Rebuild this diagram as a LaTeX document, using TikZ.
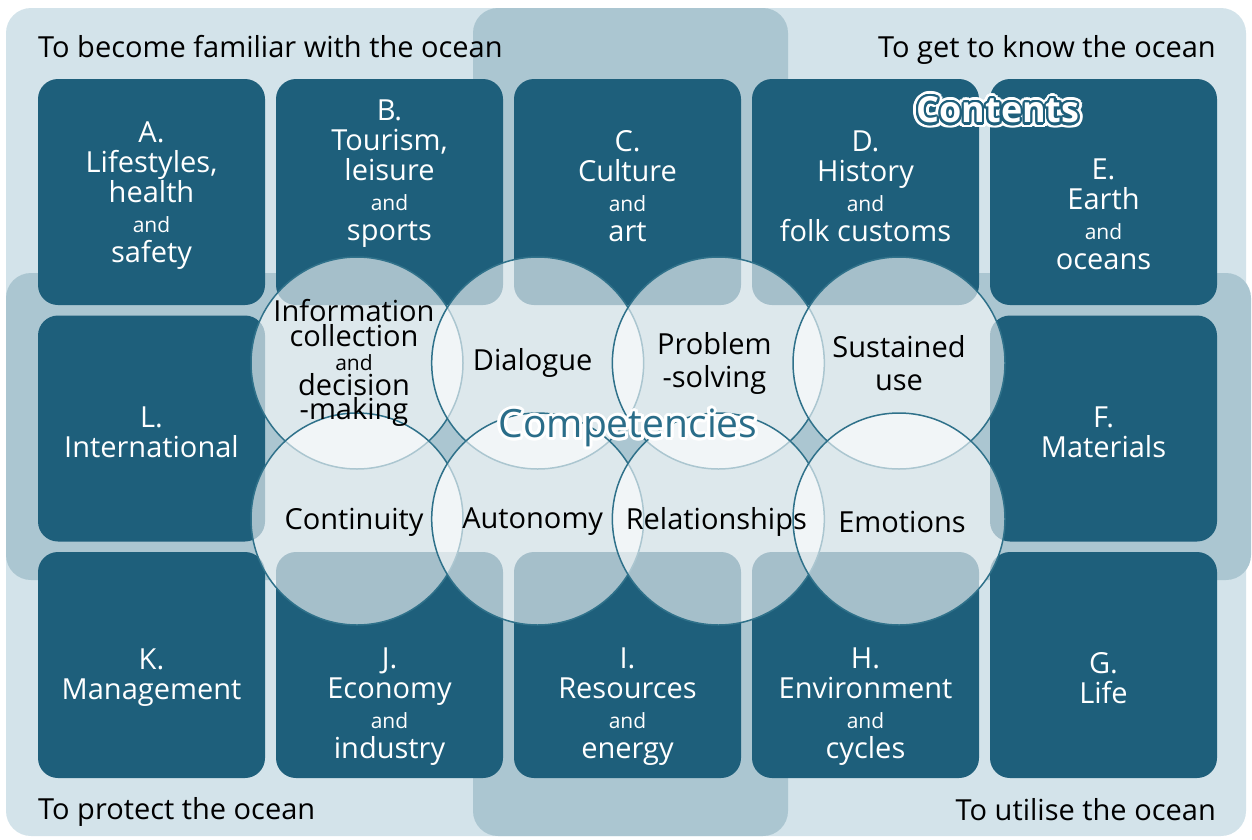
\documentclass[tikz,border=0pt]{standalone}
\usepackage{fontspec}
\setmainfont{Open Sans}
\usepackage{xcolor}
\usepackage{tikz}
\usetikzlibrary{calc}
\usetikzlibrary{positioning}

\definecolor{bgblue}{HTML}{D3E3EA}
\definecolor{bandblue}{HTML}{ABC6D1}
\definecolor{boxblue}{HTML}{1E5F7B}
\definecolor{ringblue}{HTML}{2F718A}
\definecolor{compblue}{HTML}{2A6D89}

\newcommand{\sm}[1]{{\fontsize{21}{21}\selectfont #1}}

\begin{document}
\begin{tikzpicture}[
        x=1pt, y=-1pt,
        topicbox/.style={fill=boxblue, rounded corners=20pt, minimum width=227pt, minimum height=226pt, inner sep=0pt},
        topictext/.style={text=white, align=center, inner sep=0pt, font=\fontsize{29}{30}\selectfont},
        compcircle/.style={circle, minimum size=212pt, inner sep=0pt, fill=white, fill opacity=0.6, draw=ringblue, line width=1.5pt},
        comptext/.style={text=black, align=center, inner sep=0pt, font=\fontsize{29}{33}\selectfont},
        aimtext/.style={text=black, inner sep=0pt, font=\fontsize{29}{30}\selectfont}
    ]
    \useasboundingbox (0,0) rectangle (1252,839);

    %=== Grid parameters ===%
    \def\xzero{151.5}
    \def\colstep{238}
    \def\yzero{192}
    \def\rowstep{236.5}
    \def\czero{357}
    \def\cstep{180.67}
    \def\crow{363}
    \def\cgap{156}

    % Background and bands
    \fill[bgblue, rounded corners=25pt] (6,8) rectangle (1246,836);
    \fill[bandblue, rounded corners=25pt] (473,8) rectangle (788,836);
    \fill[bandblue, rounded corners=25pt] (6,273) rectangle (1251,580);

    %=== Topic Macro ===%
    \newcommand{\topic}[5]{
        \pgfmathsetmacro{\bx}{\xzero+#2*\colstep}
        \pgfmathsetmacro{\by}{\yzero+#3*\rowstep}
        \node[topicbox] (#1) at (\bx,\by) {};
        \node[topictext] (#1-text) at (\bx,\by+#4) {#5};
    }

    %=== CONTENTS ===%
    \topic{A}{0}{0}{4}{A.\\Lifestyles,\\health\\\sm{and}\\safety}
    \topic{B}{1}{0}{-18}{B.\\Tourism,\\leisure\\\sm{and}\\sports}
    \topic{C}{2}{0}{-6}{C.\\Culture\\\sm{and}\\art}
    \topic{D}{3}{0}{-6}{D.\\History\\\sm{and}\\folk customs}
    \topic{E}{4}{0}{22}{E.\\Earth\\\sm{and}\\oceans}
    \topic{L}{0}{1}{4}{L.\\International}
    \topic{F}{4}{1}{4}{F.\\Materials}
    \topic{K}{0}{2}{13}{K.\\Management}
    \topic{J}{1}{2}{42}{J.\\Economy\\\sm{and}\\industry}
    \topic{I}{2}{2}{42}{I.\\Resources\\\sm{and}\\energy}
    \topic{H}{3}{2}{42}{H.\\Environment\\\sm{and}\\cycles}
    \topic{G}{4}{2}{13}{G.\\Life}

    %=== COMPETENCIES ===%
    \foreach \name/\col/\row in {info/0/0, dialogue/1/0, problem/2/0, sustained/3/0,
            continuity/0/1, autonomy/1/1, relation/2/1, emotions/3/1}
        \node[compcircle] (\name) at ({\czero+\col*\cstep},{\crow+\row*\cgap}) {};

    \node[comptext, font=\fontsize{29}{24.5}\selectfont] (info-text) at ([xshift=-3pt]info.center)
        {Information\\collection\\\sm{and}\\decision\\-making};
    \node[comptext] (dialogue-text) at ([xshift=-5pt]dialogue.center) {Dialogue};
    \node[comptext] (problem-text) at ([xshift=-4pt]problem.center) {Problem\\-solving};
    \node[comptext] (sustained-text) at (sustained.center) {Sustained\\use};
    \node[comptext] (continuity-text) at ([xshift=-3pt,yshift=-3pt]continuity.center) {Continuity};
    \node[comptext] (autonomy-text) at ([xshift=-5pt,yshift=-3pt]autonomy.center) {Autonomy};
    \node[comptext] (relation-text) at ([xshift=-2pt,yshift=-3pt]relation.center) {Relationships};
    \node[comptext] (emotions-text) at ([xshift=3pt,yshift=-3pt]emotions.center) {Emotions};

    %=== Aims in the corners ===%
    \node[aimtext, anchor=base west] (familiar) at (38,57) {To become familiar with the ocean};
    \node[aimtext, anchor=base east] (know) at (1216,57) {To get to know the ocean};
    \node[aimtext, anchor=base west] (protect) at (38,819) {To protect the ocean};
    \node[aimtext, anchor=base east] (utilise) at (1216,820) {To utilise the ocean};

    %=== Halo Macro ===%
    \newcommand{\halotext}[6]{
        \foreach \a in {0,20,...,340}
            \node[font=#3, text=#4, inner sep=0pt] (#1-\a) at ($(#2)+(\a:#5)$) {#6};
    }

    % Titles
    \coordinate (comp-pos) at (628,428);
    \halotext{comp-halo}{comp-pos}{\fontsize{39}{40}\selectfont}{white}{3}{Competencies}
    \node[font=\fontsize{39}{40}\selectfont, text=compblue, inner sep=0pt] (competencies) at (comp-pos) {Competencies};

    \coordinate (cont-pos) at (998,110);
    \halotext{cont-halo}{cont-pos}{\bfseries\fontsize{36}{38}\selectfont}{white}{5}{Contents}
    \halotext{cont-line}{cont-pos}{\bfseries\fontsize{36}{38}\selectfont}{boxblue}{2.2}{Contents}
    \node[font=\bfseries\fontsize{36}{38}\selectfont, text=white, inner sep=0pt] (contents) at (cont-pos) {Contents};

\end{tikzpicture}
\end{document}
